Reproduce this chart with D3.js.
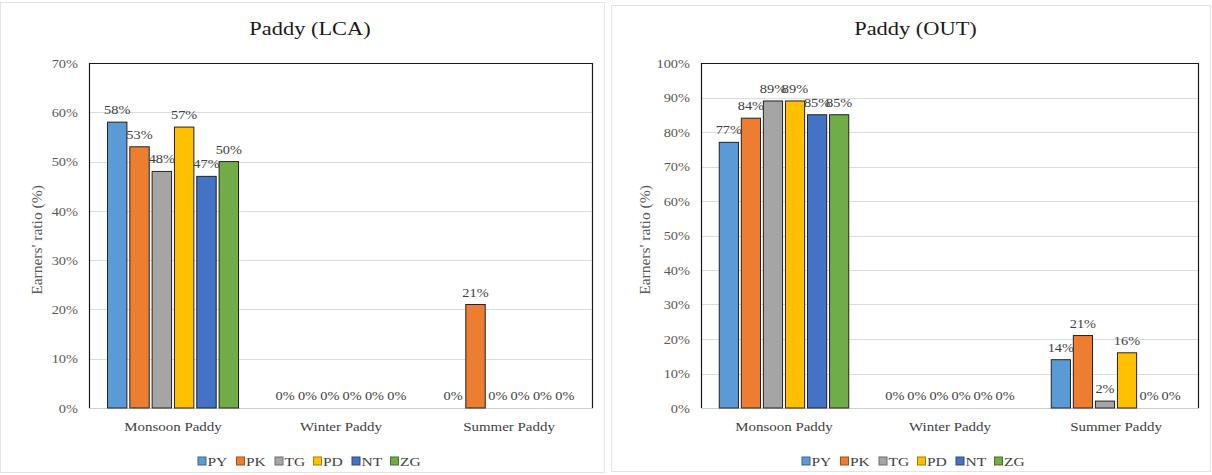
<!DOCTYPE html>
<html>
<head>
<meta charset="utf-8">
<script src="https://cdn.jsdelivr.net/npm/d3@7"></script>
<style>
  html, body { margin: 0; padding: 0; background: #fff; }
  svg { display: block; }
  text { font-family: "Liberation Serif", "Times New Roman", serif; }
</style>
</head>
<body>
<svg id="chart" width="1212" height="475"></svg>
<script>
// Categories and series
const categories = ["Monsoon Paddy", "Winter Paddy", "Summer Paddy"];
const seriesNames = ["PY", "PK", "TG", "PD", "NT", "ZG"];
const seriesColors = ["#5B9BD5", "#ED7D31", "#A5A5A5", "#FFC000", "#4472C4", "#70AD47"];

// Earners' ratio (%) per series, in category order
const lcaPY = [58, 0, 0];
const lcaPK = [53, 0, 21];
const lcaTG = [48, 0, 0];
const lcaPD = [57, 0, 0];
const lcaNT = [47, 0, 0];
const lcaZG = [50, 0, 0];

const outPY = [77, 0, 14];
const outPK = [84, 0, 21];
const outTG = [89, 0, 2];
const outPD = [89, 0, 16];
const outNT = [85, 0, 0];
const outZG = [85, 0, 0];

// Tick labels of the two value axes
const lcaTicks = [0, 10, 20, 30, 40, 50, 60, 70];
const outTicks = [0, 10, 20, 30, 40, 50, 60, 70, 80, 90, 100];

const svg = d3.select("#chart");
const SX = 1.15; // horizontal stretch applied to the serif text

function stretched(sel, x, y) {
  return sel.attr("transform", `translate(${x},${y}) scale(${SX},1)`);
}

function drawPanel(opts) {
  const { panel, plot, title, ticks, rows } = opts;
  const g = svg.append("g");

  // Panel frame
  g.append("rect")
    .attr("x", panel.x + 0.5).attr("y", panel.y + 0.5)
    .attr("width", panel.w).attr("height", panel.h)
    .attr("fill", "#fff").attr("stroke", "#e3e3e3");

  const x = d3.scaleBand().domain(categories).range([plot.left, plot.right]);
  const y = d3.scaleLinear().domain([0, d3.max(ticks)]).range([plot.bottom, plot.top]);
  const groupW = x.bandwidth() * 0.78;
  const xs = d3.scaleBand().domain(seriesNames)
    .range([(x.bandwidth() - groupW) / 2, (x.bandwidth() + groupW) / 2])
    .paddingInner(0.13);

  // Gridlines
  g.append("g").selectAll("line").data(ticks.slice(1, -1)).join("line")
    .attr("x1", plot.left).attr("x2", plot.right)
    .attr("y1", d => Math.round(y(d)) + 0.5).attr("y2", d => Math.round(y(d)) + 0.5)
    .attr("stroke", "#dcdcdc");

  // Category baseline
  g.append("line")
    .attr("x1", plot.left).attr("x2", plot.right)
    .attr("y1", plot.bottom + 0.5).attr("y2", plot.bottom + 0.5)
    .attr("stroke", "#cfcfcf");

  // Plot frame: top, left, right
  g.append("path")
    .attr("d", `M${plot.left + 0.5},${plot.bottom}V${plot.top + 0.5}H${plot.right - 0.5}V${plot.bottom}`)
    .attr("fill", "none").attr("stroke", "#1a1a1a").attr("stroke-width", 1.2);

  // Value axis
  const yAxis = d3.axisLeft(y).tickValues(ticks).tickFormat(d => d + "%")
    .tickSize(0).tickPadding(10.5);
  const ya = g.append("g").attr("transform", `translate(${plot.left},0)`).call(yAxis);
  ya.select(".domain").remove();
  ya.selectAll(".tick text")
    .attr("font-family", "Liberation Serif").attr("font-size", 12.5).attr("fill", "#595959")
    .attr("x", null).attr("dy", "0.34em")
    .attr("transform", `translate(-11,0) scale(${SX},1)`);

  // Category axis
  const xAxis = d3.axisBottom(x).tickSize(0).tickPadding(0);
  const xa = g.append("g").attr("transform", `translate(0,${plot.bottom})`).call(xAxis);
  xa.select(".domain").remove();
  xa.selectAll(".tick text")
    .attr("font-family", "Liberation Serif").attr("font-size", 13).attr("fill", "#404040")
    .attr("y", null).attr("dy", null)
    .attr("transform", `translate(0,23) scale(${SX},1)`);

  // Bars and value labels
  const flat = [];
  categories.forEach((c, ci) => {
    seriesNames.forEach((s, si) => flat.push({ c, s, si, v: rows[si][ci] }));
  });

  g.append("g").selectAll("rect").data(flat.filter(d => d.v > 0)).join("rect")
    .attr("x", d => x(d.c) + xs(d.s))
    .attr("y", d => y(d.v))
    .attr("width", xs.bandwidth())
    .attr("height", d => y(0) - y(d.v))
    .attr("fill", d => seriesColors[d.si])
    .attr("stroke", "#222").attr("stroke-width", 1);

  g.append("g").selectAll("text").data(flat).join("text")
    .attr("text-anchor", "middle")
    .attr("font-size", 12.5).attr("fill", "#404040")
    .text(d => d.v + "%")
    .each(function (d) {
      stretched(d3.select(this), x(d.c) + xs(d.s) + xs.bandwidth() / 2, y(d.v) - 8);
    });

  // Title
  stretched(g.append("text"), panel.x + panel.w / 2 + opts.titleDx, 35)
    .attr("text-anchor", "middle").attr("font-size", 19.5).attr("fill", "#1a1a1a")
    .text(title);

  // Value axis title
  g.append("text")
    .attr("transform", `translate(${opts.yTitleX},240) rotate(-90) scale(${SX},1.05)`)
    .attr("text-anchor", "middle").attr("font-size", 13.5).attr("fill", "#595959")
    .text("Earners' ratio (%)");

  // Legend
  const itemW = 38.5;
  const lx0 = opts.legendX;
  const lg = g.append("g").selectAll("g").data(seriesNames).join("g")
    .attr("transform", (d, i) => `translate(${lx0 + i * itemW},461)`);
  lg.append("rect")
    .attr("x", 0).attr("y", -4).attr("width", 8).attr("height", 8)
    .attr("fill", (d, i) => seriesColors[i])
    .attr("stroke", (d, i) => d3.color(seriesColors[i]).darker(1.2)).attr("stroke-width", 1);
  lg.append("text")
    .attr("dy", "0.35em").attr("font-size", 13.5).attr("fill", "#404040")
    .attr("transform", `translate(9.5,0) scale(${SX},1)`)
    .text(d => d);
}

drawPanel({
  panel: { x: 0, y: 2, w: 604, h: 470 },
  plot: { left: 89, right: 593, top: 63, bottom: 408 },
  title: "Paddy (LCA)",
  titleDx: 8,
  ticks: lcaTicks,
  rows: [lcaPY, lcaPK, lcaTG, lcaPD, lcaNT, lcaZG],
  yTitleX: 42,
  legendX: 198
});

drawPanel({
  panel: { x: 611, y: 5, w: 599, h: 466 },
  plot: { left: 701, right: 1199, top: 63, bottom: 408 },
  title: "Paddy (OUT)",
  titleDx: 5,
  ticks: outTicks,
  rows: [outPY, outPK, outTG, outPD, outNT, outZG],
  yTitleX: 650,
  legendX: 802
});
</script>
</body>
</html>
